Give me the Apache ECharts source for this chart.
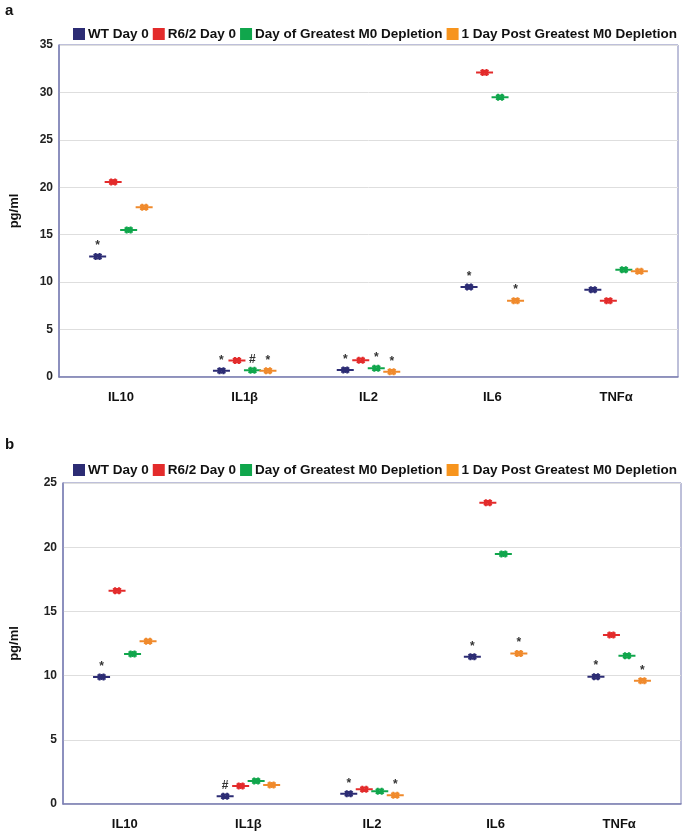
<!DOCTYPE html>
<html>
<head>
<meta charset="utf-8">
<script src="https://cdn.jsdelivr.net/npm/echarts@6/dist/echarts.min.js"></script>
<style>
html,body{margin:0;padding:0;background:#fff;}
#c{width:685px;height:835px;}
</style>
</head>
<body>
<div id="c"></div>
<script>
// ---- data ----
const categories = ['IL10', 'IL1β', 'IL2', 'IL6', 'TNFα'];
const seriesNames = ['WT Day 0', 'R6/2 Day 0', 'Day of Greatest M0 Depletion', '1 Day Post Greatest M0 Depletion'];

// Panel a (pg/ml)
const aWT     = [12.7, 0.66, 0.74, 9.5, 9.2];
const aR62    = [20.55, 1.75, 1.76, 32.1, 8.05];
const aDay    = [15.5, 0.7, 0.92, 29.5, 11.3];
const aPost   = [17.9, 0.66, 0.56, 8.05, 11.15];
const aSigWT   = ['*', '*', '*', '*', ''];
const aSigR62  = ['', '', '', '', ''];
const aSigDay  = ['', '#', '*', '', ''];
const aSigPost = ['', '*', '*', '*', ''];

// Panel b (pg/ml)
const bWT     = [9.9, 0.6, 0.8, 11.47, 9.92];
const bR62    = [16.6, 1.4, 1.14, 23.47, 13.16];
const bDay    = [11.68, 1.8, 0.99, 19.47, 11.55];
const bPost   = [12.67, 1.48, 0.68, 11.73, 9.6];
const bSigWT   = ['*', '#', '*', '*', '*'];
const bSigR62  = ['', '', '', '', ''];
const bSigDay  = ['', '', '', '', ''];
const bSigPost = ['', '', '*', '*', '*'];

const aTicks = { min: 0, max: 35, interval: 5 };
const bTicks = { min: 0, max: 25, interval: 5 };

// ---- styles ----
const colors = ['#2c2c74', '#e32b2b', '#10a64c', '#f08a2c'];
const legendColors = ['#2c2c74', '#e32b2b', '#10a64c', '#f7941d'];
const offsets = [-23.25, -7.75, 7.75, 23.25];
const markerPath = 'path://M0 5 L34 5 L34 9 L0 9 Z M8 3 L10 1 L18 11 L16 13 Z M16 1 L18 3 L10 13 L8 11 Z M16 3 L18 1 L26 11 L24 13 Z M24 1 L26 3 L18 13 L16 11 Z M11 0 L15 0 L15 14 L11 14 Z M19 0 L23 0 L23 14 L19 14 Z';
const FONT = 'Liberation Sans, Arial, sans-serif';
const borderCol = '#7d80b4';

function makeSeries(vals, sigs, idx, gridIdx) {
  return {
    name: seriesNames[idx],
    type: 'scatter',
    xAxisIndex: gridIdx,
    yAxisIndex: gridIdx,
    symbol: markerPath,
    symbolSize: [17, 7],
    symbolOffset: [offsets[idx], 0],
    itemStyle: { color: colors[idx], opacity: 1 },
    label: {
      show: true,
      position: 'top',
      distance: 1,
      color: '#333',
      fontFamily: FONT,
      fontWeight: 'bold',
      fontSize: 12,
      formatter: p => sigs[p.dataIndex]
    },
    emphasis: { disabled: true },
    data: vals.map((v, i) => [categories[i], v])
  };
}

const panelA = [aWT, aR62, aDay, aPost];
const panelASig = [aSigWT, aSigR62, aSigDay, aSigPost];
const panelB = [bWT, bR62, bDay, bPost];
const panelBSig = [bSigWT, bSigR62, bSigDay, bSigPost];

const series = [];
panelA.forEach((v, i) => series.push(makeSeries(v, panelASig[i], i, 0)));
panelB.forEach((v, i) => series.push(makeSeries(v, panelBSig[i], i, 1)));

function xAxis(gridIndex) {
  return {
    type: 'category',
    gridIndex,
    data: categories,
    boundaryGap: true,
    axisLine: { show: true, lineStyle: { color: borderCol, width: 1.5 } },
    axisTick: { show: false },
    axisLabel: { color: '#111', fontFamily: FONT, fontWeight: 'bold', fontSize: 13, margin: 14 },
    splitLine: { show: false }
  };
}
function yAxis(gridIndex, t, nameGap) {
  return {
    type: 'value',
    gridIndex,
    min: t.min, max: t.max, interval: t.interval,
    name: 'pg/ml',
    nameLocation: 'middle',
    nameRotate: 90,
    nameGap,
    nameTextStyle: { color: '#111', fontFamily: FONT, fontWeight: 'bold', fontSize: 13 },
    axisLine: { show: true, lineStyle: { color: borderCol, width: 1.5 } },
    axisTick: { show: false },
    axisLabel: { color: '#222', fontFamily: FONT, fontWeight: 'bold', fontSize: 12, margin: 6 },
    splitLine: { show: true, lineStyle: { color: '#dedede', width: 1 } }
  };
}
function legend(top) {
  return {
    top, left: 68,
    itemWidth: 12, itemHeight: 12, itemGap: 4,
    icon: 'rect',
    selectedMode: false,
    textStyle: { color: '#111', fontFamily: FONT, fontWeight: 'bold', fontSize: 13.5, padding: [0, 0, 0, -2] },
    data: seriesNames.map((n, i) => ({ name: n, itemStyle: { color: legendColors[i], opacity: 1 } }))
  };
}

const chart = echarts.init(document.getElementById('c'), null, { renderer: 'canvas' });
chart.setOption({
  animation: false,
  backgroundColor: '#fff',
  grid: [
    { left: 59, top: 45, right: 7, height: 332, show: true, borderColor: borderCol, borderWidth: 1, containLabel: false },
    { left: 63, top: 483, right: 4, height: 321, show: true, borderColor: borderCol, borderWidth: 1, containLabel: false }
  ],
  legend: [legend(22), legend(458)],
  xAxis: [xAxis(0), xAxis(1)],
  yAxis: [yAxis(0, aTicks, 38), yAxis(1, bTicks, 42)],
  graphic: [
    { type: 'text', left: 5, top: 3, style: { text: 'a', fontFamily: FONT, fontWeight: 'bold', fontSize: 15, fill: '#111' } },
    { type: 'text', left: 5, top: 437, style: { text: 'b', fontFamily: FONT, fontWeight: 'bold', fontSize: 15, fill: '#111' } }
  ],
  series
});
</script>
</body>
</html>
